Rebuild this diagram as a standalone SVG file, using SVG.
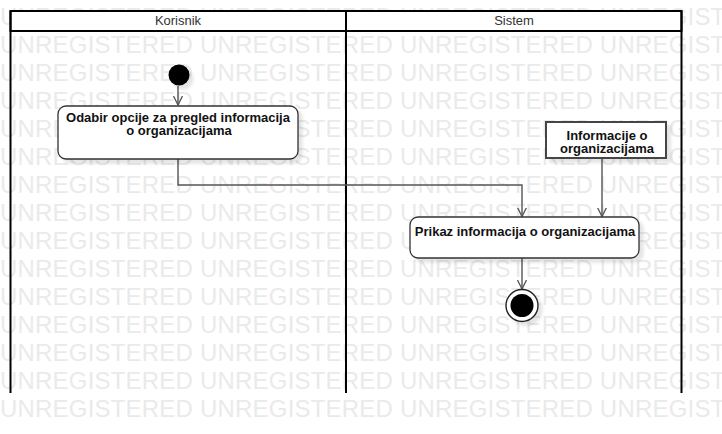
<svg xmlns="http://www.w3.org/2000/svg" width="722" height="434" viewBox="0 0 722 434">
<defs>
<style>
.wm{font-family:"Liberation Sans",Arial,sans-serif;font-size:24px;fill:#eaeaea;letter-spacing:0.2px}
.lane{fill:none;stroke:#000;stroke-width:2}
.hdr{fill:#fff;stroke:#000;stroke-width:2}
.lanelbl{font-family:"Liberation Sans",Arial,sans-serif;font-size:13px;fill:#333;text-anchor:middle}
.act{fill:#fff;stroke:#333;stroke-width:1.3}
.obj{fill:#fff;stroke:#444;stroke-width:2}
.lbl{font-family:"Liberation Sans",Arial,sans-serif;font-size:13px;font-weight:bold;fill:#111;text-anchor:middle}
.edge{fill:none;stroke:#555;stroke-width:1.4}
</style>
<filter id="sh" x="-20%" y="-20%" width="150%" height="150%">
<feDropShadow dx="4" dy="4" stdDeviation="1.5" flood-color="#000" flood-opacity="0.1"/>
</filter>
<marker id="arr" viewBox="0 0 10 10" refX="9" refY="5" markerWidth="10" markerHeight="10" markerUnits="userSpaceOnUse" orient="auto">
<path d="M0,0.5 L9,5 L0,9.5" fill="none" stroke="#555" stroke-width="1.3"/>
</marker>
</defs>
<rect width="722" height="434" fill="#fff"/>
<g id="watermark">
<text class="wm" x="0" y="25">UNREGISTERED UNREGISTERED UNREGISTERED UNREGIST</text>
<text class="wm" x="0" y="53">UNREGISTERED UNREGISTERED UNREGISTERED UNREGIST</text>
<text class="wm" x="0" y="81">UNREGISTERED UNREGISTERED UNREGISTERED UNREGIST</text>
<text class="wm" x="0" y="109">UNREGISTERED UNREGISTERED UNREGISTERED UNREGIST</text>
<text class="wm" x="0" y="137">UNREGISTERED UNREGISTERED UNREGISTERED UNREGIST</text>
<text class="wm" x="0" y="165">UNREGISTERED UNREGISTERED UNREGISTERED UNREGIST</text>
<text class="wm" x="0" y="193">UNREGISTERED UNREGISTERED UNREGISTERED UNREGIST</text>
<text class="wm" x="0" y="221">UNREGISTERED UNREGISTERED UNREGISTERED UNREGIST</text>
<text class="wm" x="0" y="249">UNREGISTERED UNREGISTERED UNREGISTERED UNREGIST</text>
<text class="wm" x="0" y="277">UNREGISTERED UNREGISTERED UNREGISTERED UNREGIST</text>
<text class="wm" x="0" y="305">UNREGISTERED UNREGISTERED UNREGISTERED UNREGIST</text>
<text class="wm" x="0" y="333">UNREGISTERED UNREGISTERED UNREGISTERED UNREGIST</text>
<text class="wm" x="0" y="361">UNREGISTERED UNREGISTERED UNREGISTERED UNREGIST</text>
<text class="wm" x="0" y="389">UNREGISTERED UNREGISTERED UNREGISTERED UNREGIST</text>
<text class="wm" x="0" y="417">UNREGISTERED UNREGISTERED UNREGISTERED UNREGIST</text>
</g>
<g id="lanes">
<rect class="hdr" x="10.5" y="11" width="671" height="20"/>
<line class="lane" x1="10.5" y1="11" x2="10.5" y2="393"/>
<line class="lane" x1="346" y1="11" x2="346" y2="393"/>
<line class="lane" x1="681.5" y1="11" x2="681.5" y2="393"/>
<text class="lanelbl" x="178" y="25">Korisnik</text>
<text class="lanelbl" x="514" y="25">Sistem</text>
</g>
<g id="connectors">
<path class="edge" d="M178,86 V105" marker-end="url(#arr)"/>
<path class="edge" d="M178,159 V185 H522 V216.5" marker-end="url(#arr)"/>
<path class="edge" d="M602,158.5 V216.5" marker-end="url(#arr)"/>
<path class="edge" d="M522,258 V289" marker-end="url(#arr)"/>
</g>
<g id="start" filter="url(#sh)">
<circle cx="179" cy="75" r="10.5" fill="#000"/>
</g>
<g id="odabir">
<rect class="act" x="58" y="106" width="240" height="53" rx="8" filter="url(#sh)"/>
<text class="lbl" x="178" y="122">Odabir opcije za pregled informacija</text>
<text class="lbl" x="179" y="135">o organizacijama</text>
</g>
<g id="informacije">
<rect class="obj" x="546" y="122" width="120" height="36" filter="url(#sh)"/>
<text class="lbl" x="607" y="139.5">Informacije o</text>
<text class="lbl" x="607" y="152.5">organizacijama</text>
</g>
<g id="prikaz">
<rect class="act" x="410" y="217" width="229" height="41" rx="8" filter="url(#sh)"/>
<text class="lbl" x="525" y="235.5">Prikaz informacija o organizacijama</text>
</g>
<g id="end" filter="url(#sh)">
<circle cx="522" cy="305.5" r="16" fill="#fff" stroke="#222" stroke-width="1.4"/>
<circle cx="522" cy="305.5" r="11.5" fill="#000"/>
</g>
</svg>
